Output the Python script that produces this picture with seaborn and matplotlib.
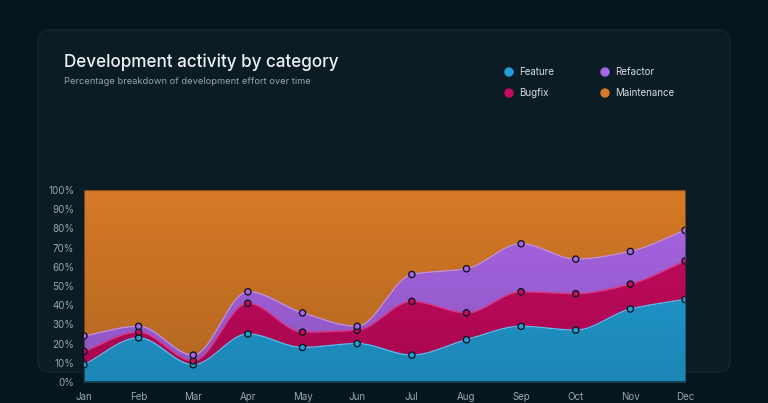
import numpy as np
import pandas as pd
import matplotlib
matplotlib.use("Agg")
import matplotlib.pyplot as plt
import seaborn as sns
from matplotlib.patches import FancyBboxPatch
from matplotlib.transforms import IdentityTransform

# data (percent shares per month)
months = ["Jan", "Feb", "Mar", "Apr", "May", "Jun", "Jul", "Aug", "Sep", "Oct", "Nov", "Dec"]
feature = [9, 23, 9, 25, 18, 20, 14, 22, 29, 27, 38, 43]
bugfix = [7, 3, 2, 16, 8, 7, 28, 14, 18, 19, 13, 20]
refactor = [8, 3, 3, 6, 10, 2, 14, 23, 25, 18, 17, 16]
maintenance = [76, 71, 86, 53, 64, 71, 44, 41, 28, 36, 32, 21]

series = ["Feature", "Bugfix", "Refactor", "Maintenance"]
colors = {"Feature": "#22a1d9", "Bugfix": "#c80a60", "Refactor": "#a966e6", "Maintenance": "#d67a27"}
edge_colors = {"Feature": "#4cc3f0", "Bugfix": "#e3307e", "Refactor": "#c28cf2", "Maintenance": "#8a4f1f"}

bg = "#06161d"
card = "#0b1c25"

sns.set_theme(style="dark")
plt.rcParams["font.family"] = ["Inter", "DejaVu Sans"]


def pchip(x, y, xs):
    # monotone cubic (Fritsch-Carlson) for smooth curves between the points
    x = np.asarray(x, float)
    y = np.asarray(y, float)
    h = np.diff(x)
    d = np.diff(y) / h
    m = np.zeros_like(y)
    for i in range(1, len(y) - 1):
        if d[i - 1] * d[i] > 0:
            w1 = 2 * h[i] + h[i - 1]
            w2 = h[i] + 2 * h[i - 1]
            m[i] = (w1 + w2) / (w1 / d[i - 1] + w2 / d[i])
    m[0] = d[0]
    m[-1] = d[-1]
    idx = np.clip(np.searchsorted(x, xs) - 1, 0, len(x) - 2)
    t = (xs - x[idx]) / h[idx]
    h00 = 2 * t**3 - 3 * t**2 + 1
    h10 = t**3 - 2 * t**2 + t
    h01 = -2 * t**3 + 3 * t**2
    h11 = t**3 - t**2
    return h00 * y[idx] + h10 * h[idx] * m[idx] + h01 * y[idx + 1] + h11 * h[idx] * m[idx + 1]


df = pd.DataFrame({"month": months, "Feature": feature, "Bugfix": bugfix,
                   "Refactor": refactor, "Maintenance": maintenance})
df["x"] = np.arange(len(months))
cum = df[series].cumsum(axis=1)
cum["x"] = df["x"]

fig = plt.figure(figsize=(7.68, 4.03), dpi=100)
fig.patch.set_facecolor(bg)

# background card (below the axes)
fig.patches.append(FancyBboxPatch((38, 31), 692, 342, boxstyle="round,pad=0,rounding_size=12",
                                  transform=IdentityTransform(), facecolor=card,
                                  edgecolor="#132731", linewidth=1, zorder=-5))

ax = fig.add_axes([84 / 768, 21 / 403, 601 / 768, 192 / 403])
ax.set_facecolor("none")

xs = np.linspace(0, len(months) - 1, 600)
lower = np.zeros_like(xs)
for s in series:
    upper = pchip(df["x"], cum[s], xs)
    if s == "Maintenance":
        upper = np.full_like(xs, 100.0)
    ax.fill_between(xs, lower, upper, color=colors[s], linewidth=0, zorder=1)
    ax.plot(xs, upper, color=edge_colors[s], linewidth=1.0, zorder=3)
    lower = upper

# vertical shading, darker toward the bottom
grad = np.linspace(0, 1, 256).reshape(-1, 1)
shade = np.zeros((256, 1, 4))
shade[..., 3] = grad * 0.17
ax.imshow(shade, extent=[0, 11, 0, 100], aspect="auto", origin="upper", zorder=2)

pts = cum[["x", "Feature", "Bugfix", "Refactor"]].melt(id_vars="x", var_name="series", value_name="value")
sns.scatterplot(data=pts, x="x", y="value", hue="series", palette=colors, s=20,
                edgecolor="#0c1820", linewidth=1.0, legend=False, ax=ax, zorder=4)

ax.set_xlim(0, 11)
ax.set_ylim(0, 100)
ax.set_xticks(df["x"])
ax.set_xticklabels(months)
ax.set_yticks(range(0, 101, 10))
ax.set_yticklabels([f"{v}%" for v in range(0, 101, 10)])
ax.tick_params(axis="both", colors="#9aa6ae", labelsize=7, length=0)
ax.tick_params(axis="x", pad=7)
ax.tick_params(axis="y", pad=7)
ax.set_xlabel("")
ax.set_ylabel("")
ax.grid(False)
for side in ["top", "right", "left"]:
    ax.spines[side].set_visible(False)
ax.spines["bottom"].set_color("#173847")
ax.spines["bottom"].set_linewidth(1.2)

fig.text(64 / 768, 1 - 62 / 403, "Development activity by category", color="#eef2f4",
         fontsize=12.3, fontweight="medium", va="center", ha="left")
fig.text(64 / 768, 1 - 82 / 403, "Percentage breakdown of development effort over time",
         color="#97a4ac", fontsize=6.7, va="center", ha="left")

leg_pos = [("Feature", 509, 72), ("Refactor", 605, 72), ("Bugfix", 509, 93), ("Maintenance", 605, 93)]
for name, px, py in leg_pos:
    fig.patches.append(plt.Circle((px, 403 - py), 4, transform=IdentityTransform(),
                                  color=colors[name], zorder=5))
    fig.text((px + 10) / 768, 1 - py / 403, name, color="#d5dde1", fontsize=7,
             va="center", ha="left")

plt.savefig("out.png", dpi=100, facecolor=bg)
